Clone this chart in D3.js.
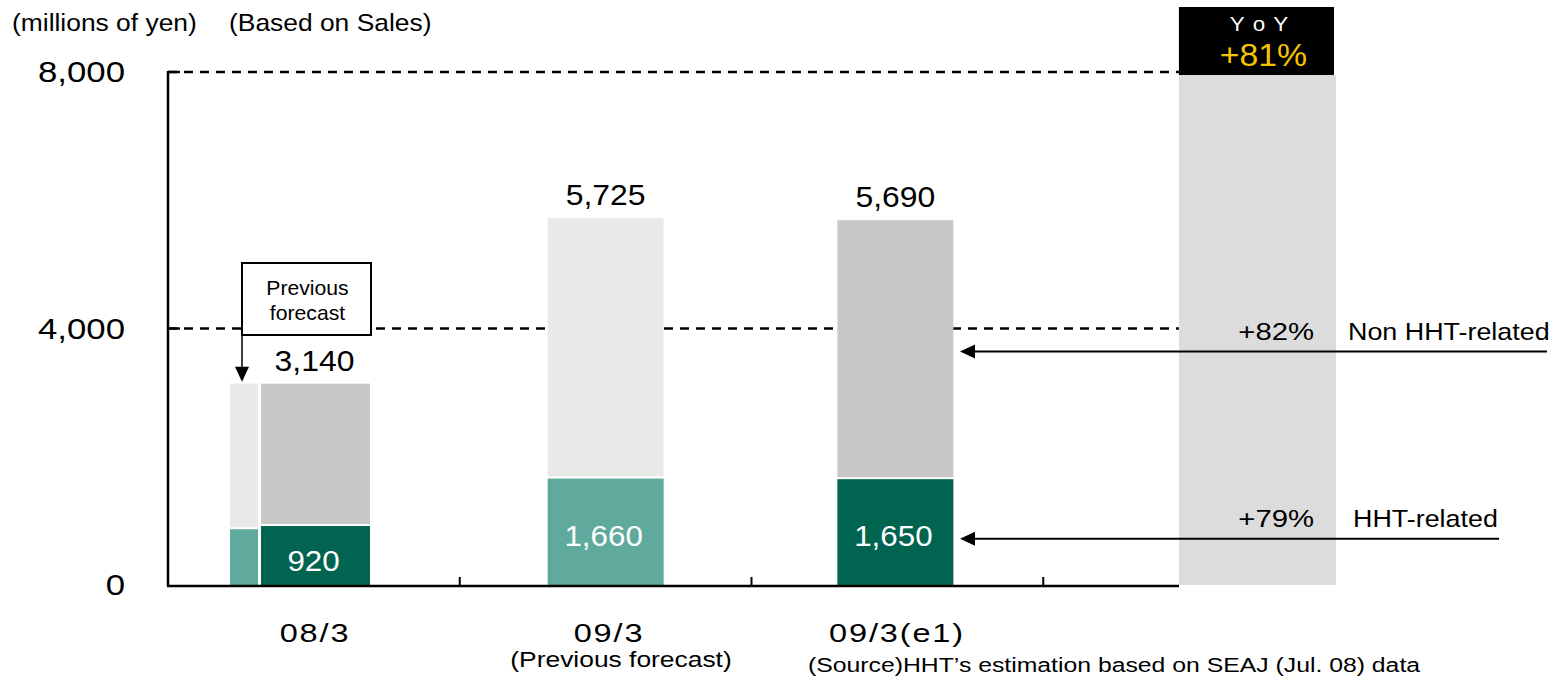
<!DOCTYPE html>
<html>
<head>
<meta charset="utf-8">
<script src="https://cdn.jsdelivr.net/npm/d3@7"></script>
<style>
  html, body { margin: 0; padding: 0; background: #fff; overflow: hidden; }
  svg { display: block; font-family: "Liberation Sans", Arial, sans-serif; }
</style>
</head>
<body>
<div id="viz"></div>
<script>
// chart data
const categories = ["08/3", "09/3", "09/3(e1)"];
const hhtValues = [920, 1660, 1650];
const totalValues = [3140, 5725, 5690];
const forecast08 = [870, 3140];          // previous forecast for 08/3: HHT, total
const yTicks = [0, 4000, 8000];
const yoyTotal = "+81%";
const yoyNonHht = "+82%";
const yoyHht = "+79%";

const width = 1556, height = 677;

const DARK_GREEN = "#006450";
const TEAL = "#5faa9c";
const GREY = "#c8c8c8";
const LIGHT_GREY = "#e9e9e9";
const YOY_GREY = "#dcdcdc";

const svg = d3.select("#viz").append("svg")
    .attr("width", width)
    .attr("height", height);

// text helper: the source texts are a bit wider than Liberation Sans, so stretch horizontally
function label(x, y, s, size, sx, anchor = "start", fill = "#000") {
    return svg.append("text")
        .attr("transform", `translate(${x},${y}) scale(${sx},1)`)
        .attr("text-anchor", anchor)
        .attr("fill", fill)
        .style("font-size", size + "px")
        .text(s);
}

// scales
const y = d3.scaleLinear().domain([0, 8000]).range([585, 72]);
const x = d3.scaleBand().domain([...categories, "yoy"]).range([168, 1335]).padding(0);
const bw = x.bandwidth();
const fmt = d3.format(",");

// dashed gridlines (behind the bars)
svg.append("g")
    .selectAll("line")
    .data(yTicks.filter(d => d > 0))
    .join("line")
    .attr("x1", 168).attr("x2", 1180)
    .attr("y1", d => y(d)).attr("y2", d => y(d))
    .attr("stroke", "#000")
    .attr("stroke-width", 2.4)
    .attr("stroke-dasharray", "9,7");

// YoY column
const yoyX = x("yoy") + bw * 0.465;
const yoyW = 1336 - yoyX;
svg.append("rect")
    .attr("x", yoyX).attr("y", y(8000) + 3)
    .attr("width", yoyW).attr("height", y(0) - y(8000) - 3)
    .attr("fill", YOY_GREY);
svg.append("rect")
    .attr("x", yoyX).attr("y", 7)
    .attr("width", yoyW - 2).attr("height", 68)
    .attr("fill", "#000");
label(yoyX + yoyW / 2 + 2, 31, "Y o Y", 20, 1.12, "middle", "#fff").style("letter-spacing", "1px");
label(yoyX + yoyW / 2 + 6, 66, yoyTotal, 31, 1.09, "middle", "#f5c400");

// bar geometry per category
const barLayout = categories.map((c, i) => {
    if (i === 0) return { x: x(c) + 93, w: 109 };
    return { x: x(c) + bw / 2 - 58 + (i === 2 ? -2 : 0), w: 116 };
});
const hhtColor = [DARK_GREEN, TEAL, DARK_GREEN];
const restColor = [GREY, LIGHT_GREY, GREY];

const bars = svg.append("g");
categories.forEach((c, i) => {
    const b = barLayout[i];
    bars.append("rect")
        .attr("x", b.x).attr("y", y(totalValues[i]))
        .attr("width", b.w).attr("height", y(hhtValues[i]) - y(totalValues[i]) - 2)
        .attr("fill", restColor[i]);
    bars.append("rect")
        .attr("x", b.x).attr("y", y(hhtValues[i]))
        .attr("width", b.w).attr("height", y(0) - y(hhtValues[i]))
        .attr("fill", hhtColor[i]);
    // total label
    label(b.x + b.w / 2 + (i === 0 ? -1 : 0), y(totalValues[i]) - 13, fmt(totalValues[i]), 29, 1.1, "middle");
    // HHT label
    label(b.x + b.w / 2 - 2, y(hhtValues[i]) + (i === 0 ? 45 : 67), fmt(hhtValues[i]), 29, 1.08, "middle", "#fff");
});

// previous forecast thin bar for 08/3
const fx = x(categories[0]) + 62, fw = 28;
bars.append("rect")
    .attr("x", fx).attr("y", y(forecast08[1]))
    .attr("width", fw).attr("height", y(forecast08[0]) - y(forecast08[1]) - 2)
    .attr("fill", LIGHT_GREY);
bars.append("rect")
    .attr("x", fx).attr("y", y(forecast08[0]))
    .attr("width", fw).attr("height", y(0) - y(forecast08[0]))
    .attr("fill", TEAL);

// "Previous forecast" callout box with arrow
const boxX = 242, boxY = 263, boxW = 129, boxH = 72;
svg.append("rect")
    .attr("x", boxX).attr("y", boxY)
    .attr("width", boxW).attr("height", boxH)
    .attr("fill", "#fff").attr("stroke", "#000").attr("stroke-width", 2);
label(boxX + boxW / 2 + 1, boxY + 32, "Previous", 20, 1.06, "middle");
label(boxX + boxW / 2 + 1, boxY + 57, "forecast", 20, 1.06, "middle");
svg.append("line")
    .attr("x1", boxX).attr("x2", boxX)
    .attr("y1", boxY + boxH).attr("y2", y(forecast08[1]) - 16)
    .attr("stroke", "#000").attr("stroke-width", 1.5);
svg.append("path")
    .attr("d", `M${boxX - 7},${y(forecast08[1]) - 17} L${boxX + 7},${y(forecast08[1]) - 17} L${boxX},${y(forecast08[1]) - 2} Z`)
    .attr("fill", "#000");

// axes lines
svg.append("line")
    .attr("x1", 168).attr("x2", 168)
    .attr("y1", y(8000) - 1).attr("y2", y(0) + 1)
    .attr("stroke", "#000").attr("stroke-width", 2.5);
svg.append("line")
    .attr("x1", 167).attr("x2", 1179)
    .attr("y1", y(0) + 1).attr("y2", y(0) + 1)
    .attr("stroke", "#000").attr("stroke-width", 2.5);
// short solid ticks at gridlines
svg.append("g").selectAll("line")
    .data(yTicks.filter(d => d > 0))
    .join("line")
    .attr("x1", 168).attr("x2", 180)
    .attr("y1", d => y(d)).attr("y2", d => y(d))
    .attr("stroke", "#000").attr("stroke-width", 2.4);
// x separators
svg.append("g").selectAll("line")
    .data(categories.map(c => x(c) + bw))
    .join("line")
    .attr("x1", d => d).attr("x2", d => d)
    .attr("y1", y(0) - 8).attr("y2", y(0))
    .attr("stroke", "#000").attr("stroke-width", 2);

// y tick labels
svg.append("g").selectAll("text")
    .data(yTicks)
    .join("text")
    .attr("transform", d => `translate(125,${y(d) + 10}) scale(1.2,1)`)
    .attr("text-anchor", "end")
    .style("font-size", "29px")
    .text(d => fmt(d));

// category labels
const catLabelX = [315, 609, 897];
svg.append("g").selectAll("text")
    .data(categories)
    .join("text")
    .attr("transform", (d, i) => `translate(${catLabelX[i]},642) scale(1.25,1)`)
    .attr("text-anchor", "middle")
    .style("font-size", "26px")
    .style("letter-spacing", "1.5px")
    .text(d => d);
label(621, 667, "(Previous forecast)", 22, 1.2, "middle");

// unit texts
label(12, 31, "(millions of yen)", 24, 1.1);
label(229, 31, "(Based on Sales)", 24, 1.1);

// right side annotations
const arrowRows = [
    { yv: 3640, pct: yoyNonHht, label: "Non HHT-related", x2: 1547, lx: 1348 },
    { yv: 720, pct: yoyHht, label: "HHT-related", x2: 1499, lx: 1353 }
];
arrowRows.forEach(r => {
    const yy = y(r.yv);
    svg.append("line")
        .attr("x1", 972).attr("x2", r.x2)
        .attr("y1", yy).attr("y2", yy)
        .attr("stroke", "#000").attr("stroke-width", 2);
    svg.append("path")
        .attr("d", `M960,${yy} L975,${yy - 7} L975,${yy + 7} Z`)
        .attr("fill", "#000");
    label(1314, yy - 12, r.pct, 24, 1.22, "end");
    label(r.lx, yy - 12, r.label, 24, 1.12);
});

// source note (kept fully inside the frame)
label(808, 672, "(Source)HHT\u2019s estimation based on SEAJ (Jul. 08) data", 21, 1.18);
</script>
</body>
</html>
